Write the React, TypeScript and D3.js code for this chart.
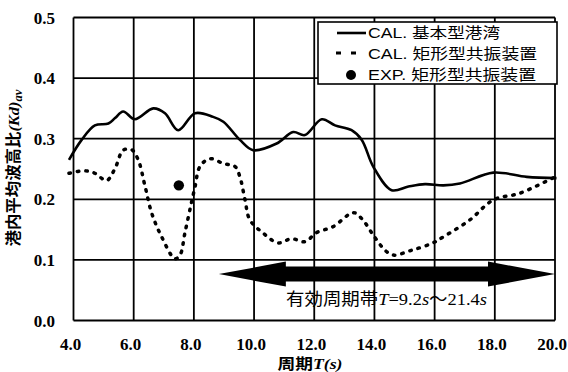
import React from "react";
import * as d3 from "d3";

const W = 568;
const H = 372;

const X_TICKS = [4, 6, 8, 10, 12, 14, 16, 18, 20];
const Y_TICKS = [0, 0.1, 0.2, 0.3, 0.4, 0.5];

const T_BASIC = [3.85, 4.27, 4.71, 5.16, 5.38, 5.65, 6.04, 6.65, 7.04, 7.48, 8.04, 8.64, 8.98, 9.53, 9.97, 10.75, 11.3, 11.69, 12.25, 12.69, 13.24, 13.58, 13.96, 14.57, 15.13, 15.68, 16.29, 16.84, 17.95, 19.06, 20.05];
const KD_BASIC = [0.265, 0.298, 0.322, 0.325, 0.334, 0.345, 0.332, 0.35, 0.342, 0.314, 0.342, 0.336, 0.328, 0.298, 0.281, 0.292, 0.311, 0.306, 0.332, 0.322, 0.314, 0.298, 0.254, 0.215, 0.221, 0.225, 0.223, 0.226, 0.244, 0.237, 0.235];

const T_RECT = [3.85, 4.38, 4.71, 5.1, 5.38, 5.65, 5.93, 6.15, 6.38, 6.6, 6.93, 7.37, 7.54, 7.7, 7.9, 8.04, 8.2, 8.53, 8.98, 9.37, 9.53, 9.7, 9.86, 10.31, 10.8, 11.25, 11.69, 12.08, 12.63, 13.3, 13.58, 13.96, 14.35, 14.62, 15.24, 15.9, 16.29, 17.17, 17.95, 18.83, 20.0];
const KD_RECT = [0.243, 0.247, 0.243, 0.231, 0.251, 0.281, 0.282, 0.265, 0.221, 0.177, 0.138, 0.102, 0.108, 0.144, 0.19, 0.221, 0.254, 0.267, 0.259, 0.254, 0.237, 0.199, 0.166, 0.144, 0.128, 0.135, 0.13, 0.145, 0.155, 0.178, 0.168, 0.141, 0.116, 0.108, 0.116, 0.127, 0.138, 0.166, 0.199, 0.21, 0.237];

const T_EXP = [7.5];
const KD_EXP = [0.223];

const LEGEND_LABELS = ["CAL. 基本型港湾", "CAL. 矩形型共振装置", "EXP. 矩形型共振装置"];
const ARROW_RANGE = [8.83, 20.0];
const ARROW_LEVEL = 0.0766;

export default function App() {
  const x = d3.scaleLinear().domain([4, 20]).range([73.5, 555]);
  const y = d3.scaleLinear().domain([0, 0.5]).range([320.5, 17.5]);

  const line = d3
    .line<[number, number]>()
    .x((d) => x(d[0]))
    .y((d) => y(d[1]))
    .curve(d3.curveCatmullRom.alpha(0.5));

  const basic = line(T_BASIC.map((t, i) => [t, KD_BASIC[i]]) as [number, number][]) || "";
  const rect = line(T_RECT.map((t, i) => [t, KD_RECT[i]]) as [number, number][]) || "";

  // arrow
  const ax0 = x(ARROW_RANGE[0]);
  const ax1 = x(ARROW_RANGE[1]);
  const ay = y(ARROW_LEVEL);
  const headL = 67;
  const headH = 12.5;
  const shaftH = 7.5;
  const arrowPts = [
    [ax0, ay],
    [ax0 + headL, ay - headH],
    [ax0 + headL, ay - shaftH],
    [ax1 - headL, ay - shaftH],
    [ax1 - headL, ay - headH],
    [ax1, ay],
    [ax1 - headL, ay + headH],
    [ax1 - headL, ay + shaftH],
    [ax0 + headL, ay + shaftH],
    [ax0 + headL, ay + headH],
  ];

  const serif = "'Liberation Serif', 'DejaVu Serif', serif";
  const cjk = "'Noto Sans CJK JP', sans-serif";
  const sans = "'Liberation Sans', Arial, sans-serif";

  return (
    <svg
      width={W}
      height={H}
      style={{ position: "absolute", left: 0, top: 0, background: "#fff" }}
    >
      <rect x={0} y={0} width={W} height={H} fill="#fff" />
      {/* grid */}
      {X_TICKS.map((t) => (
        <line key={"gx" + t} x1={x(t)} x2={x(t)} y1={y(0.5)} y2={y(0)} stroke="#000" strokeWidth={1.8} />
      ))}
      {Y_TICKS.map((v) => (
        <line key={"gy" + v} x1={x(4)} x2={x(20)} y1={y(v)} y2={y(v)} stroke="#000" strokeWidth={1.8} />
      ))}
      {/* tick labels */}
      {Y_TICKS.map((v) => (
        <text
          key={"ty" + v}
          x={55}
          y={y(v)}
          dy="0.36em"
          textAnchor="end"
          fontFamily={serif}
          fontWeight="bold"
          fontSize={17}
        >
          {v.toFixed(1)}
        </text>
      ))}
      {X_TICKS.map((t) => (
        <text
          key={"tx" + t}
          x={x(t) - 3}
          y={350}
          textAnchor="middle"
          fontFamily={serif}
          fontWeight="bold"
          fontSize={17}
        >
          {t.toFixed(1)}
        </text>
      ))}
      {/* axis titles */}
      <text x={310} y={369} textAnchor="middle" fontSize={15} fontWeight="bold" textLength={65} lengthAdjust="spacingAndGlyphs">
        <tspan fontFamily={cjk}>周期</tspan>
        <tspan fontFamily={serif} fontStyle="italic">T(s)</tspan>
      </text>
      <text
        transform="translate(19,168) rotate(-90)"
        textAnchor="middle"
        fontSize={15.5}
        fontWeight="bold"
        textLength={157}
        lengthAdjust="spacingAndGlyphs"
      >
        <tspan fontFamily={cjk}>港内平均波高比</tspan>
        <tspan fontFamily={serif} fontStyle="italic">(Kd)</tspan>
        <tspan fontFamily={serif} fontStyle="italic" fontSize={12} dy={3}>av</tspan>
      </text>

      {/* curves */}
      <path d={basic} fill="none" stroke="#000" strokeWidth={2.6} strokeLinejoin="round" />
      <path
        d={rect}
        fill="none"
        stroke="#000"
        strokeWidth={3.5}
        strokeDasharray="1.5 7"
        strokeLinecap="round"
      />
      {T_EXP.map((t, i) => (
        <circle key={"e" + i} cx={x(t)} cy={y(KD_EXP[i])} r={5.2} fill="#000" />
      ))}

      {/* arrow */}
      <polygon points={arrowPts.map((p) => p.join(",")).join(" ")} fill="#000" />
      <text
        x={286}
        y={299}
        dy="0.36em"
        fontSize={17}
        textLength={201}
        lengthAdjust="spacingAndGlyphs"
      >
        <tspan fontFamily={cjk}>有効周期帯</tspan>
        <tspan fontFamily={serif} fontStyle="italic">T</tspan>
        <tspan fontFamily={serif}>=9.2</tspan>
        <tspan fontFamily={serif} fontStyle="italic">s</tspan>
        <tspan fontFamily={cjk}>～</tspan>
        <tspan fontFamily={serif}>21.4</tspan>
        <tspan fontFamily={serif} fontStyle="italic">s</tspan>
      </text>

      {/* legend */}
      <rect x={318} y={22} width={239} height={62} fill="#fff" stroke="#000" strokeWidth={1.6} />
      <line x1={337} x2={366} y1={33} y2={33} stroke="#000" strokeWidth={2.6} />
      <line x1={336} x2={358} y1={53} y2={53} stroke="#000" strokeWidth={3} strokeDasharray="5 10" />
      <circle cx={351} cy={75} r={5} fill="#000" />
      {LEGEND_LABELS.map((lab, i) => {
        const [pre, rest] = [lab.slice(0, 5), lab.slice(5)];
        const widths = [132, 169, 168];
        return (
          <text
            key={"l" + i}
            x={368}
            y={[33, 54, 75][i]}
            dy="0.36em"
            fontSize={15}
            textLength={widths[i]}
            lengthAdjust="spacingAndGlyphs"
          >
            <tspan fontFamily={sans}>{pre}</tspan>
            <tspan fontFamily={cjk}>{rest}</tspan>
          </text>
        );
      })}
    </svg>
  );
}
